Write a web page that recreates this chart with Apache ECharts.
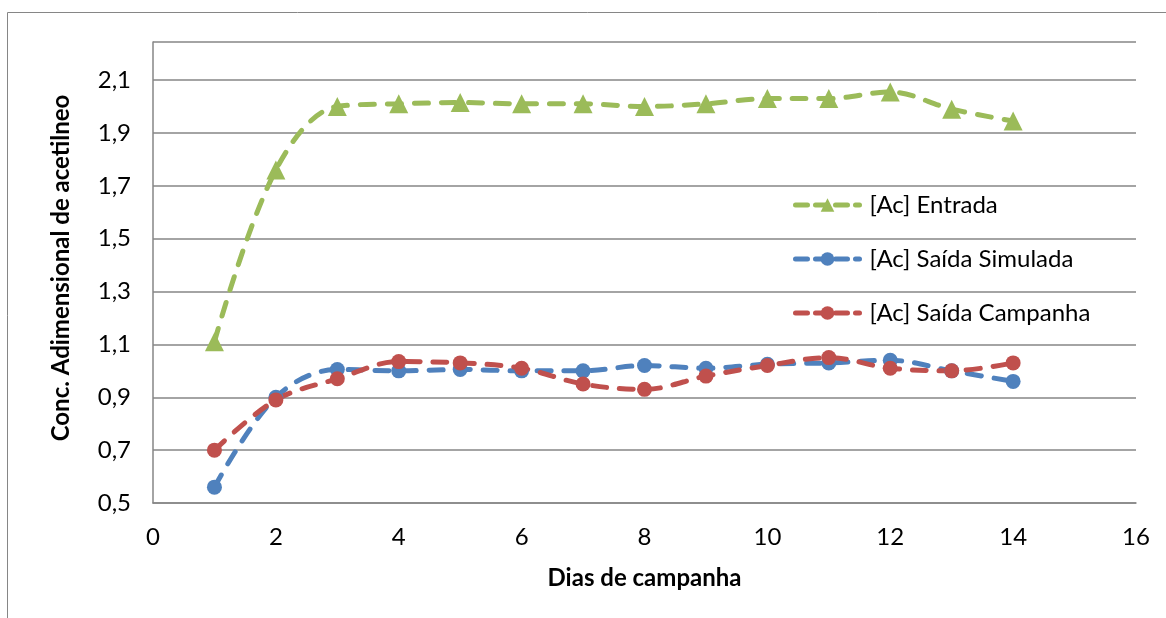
<!DOCTYPE html>
<html>
<head>
<meta charset="utf-8">
<script src="https://cdn.jsdelivr.net/npm/echarts@6/dist/echarts.min.js"></script>
<style>html,body{margin:0;padding:0;background:#fff}#c{width:1166px;height:618px}</style>
</head>
<body>
<div id="c"></div>
<script>
var days = [1,2,3,4,5,6,7,8,9,10,11,12,13,14];
var entrada = [1.11,1.76,2.00,2.01,2.015,2.01,2.01,2.00,2.01,2.03,2.03,2.055,1.99,1.945];
var simulada = [0.56,0.90,1.005,1.00,1.005,1.00,1.00,1.02,1.01,1.025,1.03,1.04,1.00,0.96];
var campanha = [0.70,0.89,0.97,1.035,1.03,1.01,0.95,0.93,0.98,1.02,1.05,1.01,1.00,1.03];
var seriesNames = ['[Ac] Entrada','[Ac] Saída Simulada','[Ac] Saída Campanha'];
var colors = ['#9BBB59','#4F81BD','#C0504D'];
var yTitle = 'Conc. Adimensional de acetilneo';
var xTitle = 'Dias de campanha';

function pairs(v){ return days.map(function(d,i){ return [d, v[i]]; }); }
function mk(name, data, color, symbol, size){
  return {
    name: name, type: 'line', smooth: 0.35, data: pairs(data),
    symbol: symbol, symbolSize: size,
    itemStyle: {color: color},
    lineStyle: {color: color, width: 5, type: [14, 13], cap: 'round'},
    z: 3
  };
}
var chart = echarts.init(document.getElementById('c'), null, {renderer:'canvas'});
var font = 'Lato, "Open Sans", "Liberation Sans", sans-serif';
var fs = 24;
chart.setOption({
  animation: false,
  backgroundColor: '#fff',
  graphic: [
    {type:'rect', shape:{x:7.5,y:12.5,width:1170,height:620}, style:{fill:'none', stroke:'#868686', lineWidth:1}, silent:true},
    {type:'text', x:61, y:268, rotation:Math.PI/2, silent:true,
     style:{text:yTitle, font:'bold 24px ' + font, fill:'#000', align:'center', verticalAlign:'middle'}}
  ],
  grid: {left:153, right:30, top:42, bottom:115, containLabel:false},
  legend: {
    orient:'vertical', left:788, top:187, itemGap:28, itemWidth:64, itemHeight:17,
    lineStyle:{width:5, type:[12,8], cap:'round'},
    textStyle:{fontFamily:font, fontSize:fs, lineHeight:26, color:'#000', padding:[0,0,0,5]},
    data: seriesNames
  },
  xAxis: {
    type:'value', min:0, max:16, interval:2,
    axisLine:{show:true, onZero:false, lineStyle:{color:'#868686', width:1.5}},
    axisTick:{show:false}, splitLine:{show:false},
    axisLabel:{fontFamily:font, fontSize:fs, color:'#000', margin:22},
    name:xTitle, nameLocation:'middle', nameGap:63, nameMoveOverlap:false,
    nameTextStyle:{fontFamily:font, fontSize:fs, fontWeight:'bold', color:'#000'}
  },
  yAxis: {
    type:'value', min:0.5, max:2.244, interval:0.2,
    axisLine:{show:true, lineStyle:{color:'#868686', width:1.5}},
    axisTick:{show:false},
    splitLine:{show:true, lineStyle:{color:'#868686', width:1.5}},
    axisLabel:{fontFamily:font, fontSize:fs, color:'#000', margin:22,
      formatter:function(v){ return v.toFixed(1).replace('.', ','); },
      showMaxLabel:false}
  },
  series: [
    mk(seriesNames[0], entrada, colors[0], 'triangle', 19),
    mk(seriesNames[1], simulada, colors[1], 'circle', 15),
    mk(seriesNames[2], campanha, colors[2], 'circle', 15)
  ]
});
</script>
</body>
</html>
